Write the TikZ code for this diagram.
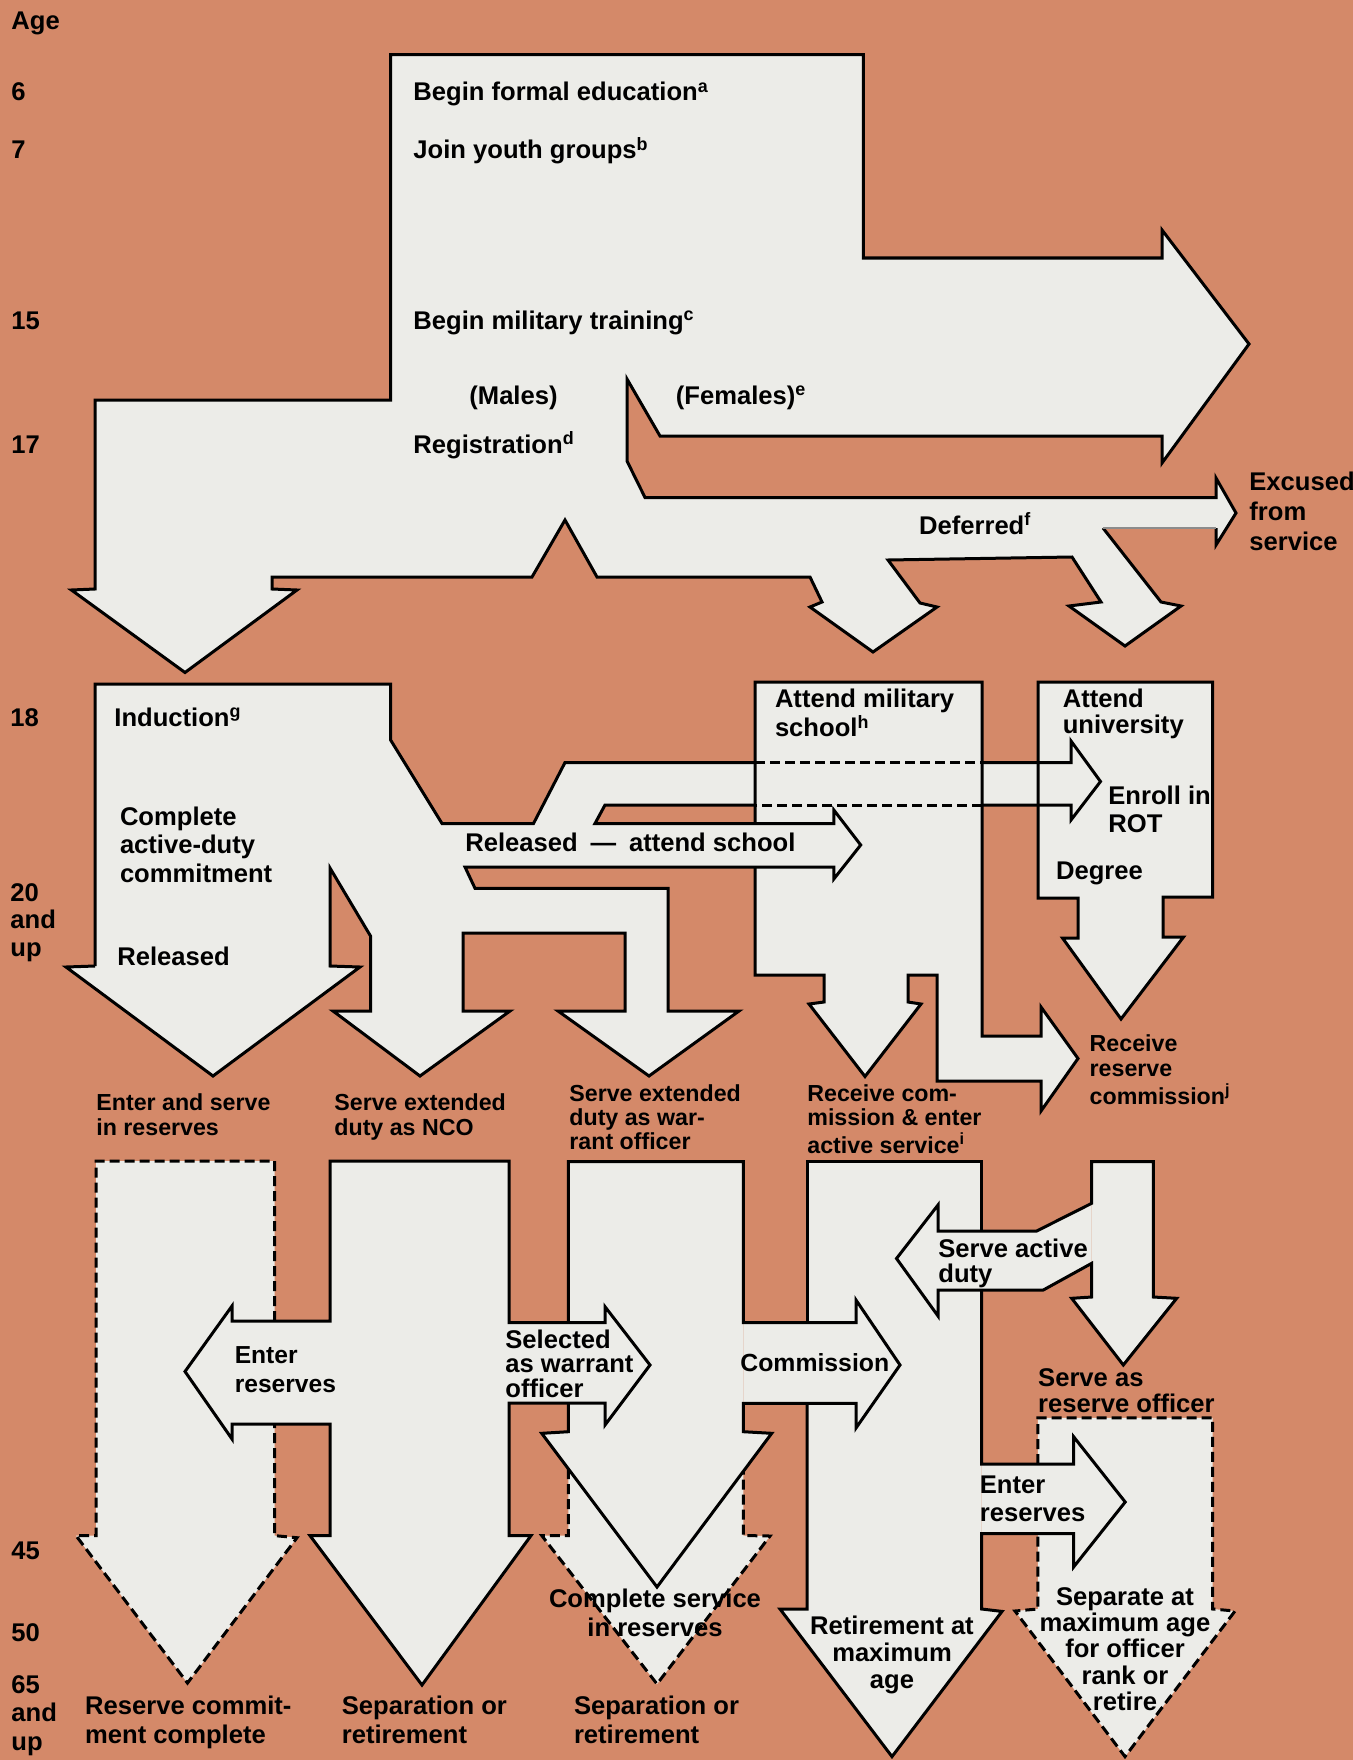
\documentclass[tikz,border=0pt]{standalone}
\usepackage{fontspec}
\newfontfamily\hv{Liberation Sans}
\definecolor{bg}{RGB}{212,137,105}
\definecolor{wh}{RGB}{236,236,232}
\newcommand\ml[4][12.8]{\fontsize{#1}{#2}\selectfont\begin{tabular}[t]{@{}#3@{}}#4\end{tabular}}
\begin{document}
\begin{tikzpicture}[x=0.5pt,y=-0.5pt,
  ol/.style={draw=black,line width=1.5pt,line join=miter,miter limit=6},
  dl/.style={ol,dash pattern=on 5pt off 2.5pt},
  lbl/.style={anchor=base west,inner sep=0pt,font=\hv\bfseries\fontsize{12.8}{14}\selectfont},
  clbl/.style={anchor=base,inner sep=0pt,font=\hv\bfseries\fontsize{12.8}{14}\selectfont}]
\useasboundingbox (0,0) rectangle (1353,1760);
\fill[bg] (0,0) rectangle (1353,1760);

% ---------- white fills ----------
\fill[wh] (390.6,54.7) -- (863.4,54.7) -- (863.4,258) -- (1162,258) -- (1162,230) -- (1249,344) -- (1162,463) -- (1162,436) -- (660,436) -- (627,379) -- (627,461) -- (645,497.5) -- (1216,497.5) -- (1216,478) -- (1236,513) -- (1216,545) -- (1216,528) -- (1103,528) -- (1161,602) -- (1181,606) -- (1125,646) -- (1069,606) -- (1101,602) -- (1072,557) -- (888,560) -- (920,603) -- (937,607) -- (873,652) -- (810,607) -- (822,602) -- (810,577) -- (597,577) -- (565,520) -- (532,577) -- (272,577) -- (272,589) -- (297,590) -- (185,672.5) -- (71.4,590) -- (95,589) -- (95,400) -- (390.6,400) -- cycle;
\fill[wh] (95,684) -- (390.6,684) -- (390.6,740) -- (442,823.5) -- (533.5,823.5) -- (565,762.5) -- (1071,762.5) -- (1071,741) -- (1100.5,781.5) -- (1071,820) -- (1071,805) -- (605,805) -- (595,823.5) -- (833.8,823.5) -- (833.8,810) -- (860.7,845) -- (833.8,879) -- (833.8,867) -- (465,867) -- (475,888.3) -- (668,888.3) -- (668,1011) -- (739,1011) -- (649,1076) -- (558,1011) -- (625,1011) -- (625,933) -- (463,933) -- (463,1011) -- (510,1011) -- (420,1076) -- (333,1011) -- (370.5,1011) -- (370.5,936) -- (330,868) -- (330,966) -- (360,967) -- (213,1076) -- (66,967) -- (95,966) -- cycle;
\fill[wh] (755,682) -- (982,682) -- (982,1036) -- (1041,1036) -- (1041,1007) -- (1078,1058.5) -- (1041,1111) -- (1041,1081) -- (937,1081) -- (937,975) -- (908,975) -- (908,1002) -- (921,1004) -- (865,1076.5) -- (809,1004) -- (824,1002) -- (824,975) -- (755,975) -- cycle;
\fill[wh] (1038,682) -- (1212.6,682) -- (1212.6,897) -- (1163,897) -- (1163,937) -- (1183.5,937) -- (1121,1019) -- (1062.5,938) -- (1078,938) -- (1078,898) -- (1038,898) -- cycle;
% bottom columns
\fill[wh] (96,1161) -- (274.5,1161) -- (274.5,1535.6) -- (297,1537.7) -- (187.5,1683) -- (76,1535.6) -- (96,1535.6) -- cycle;
\fill[wh] (330,1161) -- (509,1161) -- (509,1535.6) -- (531,1535.6) -- (422,1685) -- (310,1535.6) -- (330,1535.6) -- cycle;
\fill[wh] (330,1321) -- (232,1321) -- (232,1306) -- (185,1371.5) -- (232,1439) -- (232,1424) -- (330,1424) -- cycle;
\fill[wh] (508,1322.7) -- (605,1322.7) -- (605,1306.7) -- (650,1365) -- (605,1425) -- (605,1403) -- (508,1403) -- cycle;
\fill[wh] (568.3,1161.7) -- (743.3,1161.7) -- (743.3,1431.7) -- (771.7,1433.3) -- (657,1587) -- (541.7,1433.3) -- (568.3,1431.7) -- cycle;
\fill[wh] (568.3,1440) -- (743.3,1440) -- (743.3,1535.5) -- (770,1536) -- (657,1684) -- (541.7,1535.5) -- (568.3,1535.5) -- cycle;
\fill[wh] (743.3,1322.7) -- (856,1322.7) -- (856,1300) -- (900,1365) -- (856,1428) -- (856,1403.3) -- (743.3,1403.3) -- cycle;
\fill[wh] (807,1161) -- (981.7,1161) -- (981.7,1609) -- (1002,1611.4) -- (892,1756.6) -- (780,1609) -- (807,1609) -- cycle;
\fill[wh] (1091.7,1203.3) -- (1036.7,1231) -- (938,1231) -- (938,1205) -- (896.5,1258.5) -- (938,1316) -- (938,1290) -- (1043.3,1290) -- (1091.7,1263.3) -- cycle;
\fill[wh] (1091.7,1161.7) -- (1153.3,1161.7) -- (1153.3,1297) -- (1176.7,1298.3) -- (1123.3,1365) -- (1071.7,1298.3) -- (1091.7,1297) -- cycle;
\fill[wh] (1037.8,1417.8) -- (1212.6,1417.8) -- (1212.6,1609) -- (1235,1611) -- (1125,1756.6) -- (1015,1611) -- (1037.8,1609) -- cycle;
\fill[wh] (981.7,1464) -- (1073.6,1464) -- (1073.6,1436.7) -- (1125.2,1502) -- (1073.6,1567) -- (1073.6,1533.5) -- (981.7,1533.5) -- cycle;

% ---------- outlines ----------
% top structure
\draw[ol] (1103,528) -- (1161,602) -- (1181,606) -- (1125,646) -- (1069,606) -- (1101,602) -- (1072,557) -- (888,560) -- (920,603) -- (937,607) -- (873,652) -- (810,607) -- (822,602) -- (810,577) -- (597,577) -- (565,520) -- (532,577) -- (272,577) -- (272,589) -- (297,590) -- (185,672.5) -- (71.4,590) -- (95,589) -- (95,400) -- (390.6,400) -- (390.6,54.7) -- (863.4,54.7) -- (863.4,258) -- (1162,258) -- (1162,230) -- (1249,344) -- (1162,463) -- (1162,436) -- (660,436) -- (627,379) -- (627,461) -- (645,497.5) -- (1216,497.5) -- (1216,478) -- (1236,513) -- (1216,545) -- (1216,528);
\draw[draw=black!45,line width=1pt] (1216,528) -- (1103,528);
% induction structure
\draw[ol] (95,966) -- (95,684) -- (390.6,684) -- (390.6,740) -- (442,823.5) -- (533.5,823.5) -- (565,762.5) -- (755,762.5);
\draw[dl] (755,762.5) -- (982,762.5);
\draw[ol] (982,762.5) -- (1071,762.5) -- (1071,741) -- (1100.5,781.5) -- (1071,820) -- (1071,805) -- (982,805);
\draw[dl] (982,805) -- (755,805);
\draw[ol] (755,805) -- (605,805) -- (595,823.5) -- (833.8,823.5) -- (833.8,810) -- (860.7,845) -- (833.8,879) -- (833.8,867) -- (465,867) -- (475,888.3) -- (668,888.3) -- (668,1011) -- (739,1011) -- (649,1076) -- (558,1011) -- (625,1011) -- (625,933) -- (463,933) -- (463,1011) -- (510,1011) -- (420,1076) -- (333,1011) -- (370.5,1011) -- (370.5,936) -- (330,868) -- (330,966) -- (360,967) -- (213,1076) -- (66,967) -- (95,966);
% military school box
\draw[ol] (755,823.5) -- (755,682) -- (982,682) -- (982,1036) -- (1041,1036) -- (1041,1007) -- (1078,1058.5) -- (1041,1111) -- (1041,1081) -- (937,1081) -- (937,975) -- (908,975) -- (908,1002) -- (921,1004) -- (865,1076.5) -- (809,1004) -- (824,1002) -- (824,975) -- (755,975) -- (755,867);
% university box
\draw[ol] (1038,682) -- (1212.6,682) -- (1212.6,897) -- (1163,897) -- (1163,937) -- (1183.5,937) -- (1121,1019) -- (1062.5,938) -- (1078,938) -- (1078,898) -- (1038,898) -- cycle;
% column 1 (dashed)
\draw[dl] (274.5,1321) -- (274.5,1161) -- (96,1161) -- (96,1535.6) -- (76,1535.6) -- (187.5,1683) -- (297,1537.7) -- (274.5,1535.6) -- (274.5,1424);
% column 2 with side arrows
\draw[ol] (330,1321) -- (330,1161) -- (509,1161) -- (509,1322.7) -- (605,1322.7) -- (605,1306.7) -- (650,1365) -- (605,1425) -- (605,1403) -- (509,1403) -- (509,1535.6) -- (531,1535.6) -- (422,1685) -- (310,1535.6) -- (330,1535.6) -- (330,1424) -- (232,1424) -- (232,1439) -- (185,1371.5) -- (232,1306) -- (232,1321) -- cycle;
% column 3
\draw[ol] (568.3,1322.7) -- (568.3,1161.7) -- (743.3,1161.7) -- (743.3,1322.7) -- (856,1322.7) -- (856,1300) -- (900,1365) -- (856,1428) -- (856,1403.3) -- (743.3,1403.3) -- (743.3,1431.7) -- (771.7,1433.3) -- (657,1587) -- (541.7,1433.3) -- (568.3,1431.7) -- (568.3,1403);
\draw[dl] (568.3,1469) -- (568.3,1535.5) -- (541.7,1535.5) -- (657,1684) -- (770,1536) -- (743.3,1535.5) -- (743.3,1471);
% column 4
\draw[ol] (807,1322.7) -- (807,1161) -- (981.7,1161) -- (981.7,1231);
\draw[ol] (981.7,1290) -- (981.7,1464) -- (1073.6,1464) -- (1073.6,1436.7) -- (1125.2,1502) -- (1073.6,1567) -- (1073.6,1533.5) -- (981.7,1533.5) -- (981.7,1609) -- (1002,1611.4) -- (892,1756.6) -- (780,1609) -- (807,1609) -- (807,1403.3);
% serve active duty + column 5
\draw[ol] (1091.7,1203.3) -- (1036.7,1231) -- (938,1231) -- (938,1205) -- (896.5,1258.5) -- (938,1316) -- (938,1290) -- (1043.3,1290) -- (1091.7,1263.3) -- (1091.7,1297) -- (1071.7,1298.3) -- (1123.3,1365) -- (1176.7,1298.3) -- (1153.3,1297) -- (1153.3,1161.7) -- (1091.7,1161.7) -- cycle;
\draw[dl] (1037.8,1464) -- (1037.8,1417.8) -- (1212.6,1417.8) -- (1212.6,1609) -- (1235,1611) -- (1125,1756.6) -- (1015,1611) -- (1037.8,1609) -- (1037.8,1533.5);

% ---------- texts ----------
\node[lbl] (tage) at (11,30) {Age};
\node[lbl] (t6) at (11,101) {6};
\node[lbl] (t7) at (11,159) {7};
\node[lbl] (t15) at (11,329) {15};
\node[lbl] (t17) at (11,453.5) {17};
\node[lbl] (t18) at (10,726) {18};
\node[lbl] (t20) at (10,901) {\ml{13.8}{l}{20\\and\\up}};
\node[lbl] (t45) at (11,1559) {45};
\node[lbl] (t50) at (11,1641) {50};
\node[lbl] (t65) at (11,1693.5) {\ml{14.2}{l}{65\\and\\up}};

\node[lbl] (edu) at (413,101) {Begin formal education\textsuperscript{a}};
\node[lbl] (youth) at (413,159) {Join youth groups\textsuperscript{b}};
\node[lbl] (miltr) at (413,329) {Begin military training\textsuperscript{c}};
\node[lbl] (males) at (469,404) {(Males)};
\node[lbl] (females) at (675.5,404) {(Females)\textsuperscript{e}};
\node[lbl] (reg) at (413,453.5) {Registration\textsuperscript{d}};
\node[lbl] (defer) at (918.7,534) {Deferred\textsuperscript{f}};
\node[lbl] (excused) at (1249,490.6) {\ml{15}{l}{Excused\\from\\service}};

\node[lbl] (induct) at (114,726) {Induction\textsuperscript{g}};
\node[lbl] (compl) at (119.6,825) {\ml{14.4}{l}{Complete\\active-duty\\commitment}};
\node[lbl] (rel) at (117,965) {Released};
\node[lbl] (relsch) at (465,851.7) {Released\enspace—\enspace attend school};
\node[lbl] (milsch) at (774.6,707) {\ml{13.4}{l}{Attend military\\school\textsuperscript{h}}};
\node[lbl] (univ) at (1062.4,707) {\ml{13.4}{l}{Attend\\university}};
\node[lbl] (rot) at (1108,804.5) {\ml{14.2}{l}{Enroll in\\ROT}};
\node[lbl] (degree) at (1055.7,879) {Degree};
\node[lbl] (rrc) at (1089.3,1051.3) {\ml[11.6]{12.5}{l}{Receive\\reserve\\commission\textsuperscript{j}}};

\node[lbl] (ensr) at (96,1110) {\ml[11.6]{12.5}{l}{Enter and serve\\in reserves}};
\node[lbl] (nco) at (334,1110) {\ml[11.6]{12.5}{l}{Serve extended\\duty as NCO}};
\node[lbl] (wo) at (569,1101) {\ml[11.6]{12.2}{l}{Serve extended\\duty as war-\\rant officer}};
\node[lbl] (rcom) at (807,1101) {\ml[11.6]{12.2}{l}{Receive com-\\mission \& enter\\active service\textsuperscript{i}}};

\node[lbl] (enres1) at (234.4,1363) {\ml[12.3]{14.7}{l}{Enter\\reserves}};
\node[lbl] (sel) at (505,1348.3) {\ml{11.7}{l}{Selected\\as warrant\\officer}};
\node[lbl] (comm) at (740,1371.7) {\fontsize{12.4}{14}\selectfont Commission};
\node[lbl] (sad) at (938,1257) {\ml{11}{l}{Serve active\\duty}};
\node[lbl] (sro) at (1037.8,1386.5) {\ml{12}{l}{Serve as\\reserve officer}};
\node[lbl] (enres2) at (979.5,1493.5) {\ml{13.8}{l}{Enter\\reserves}};
\node[clbl] (csr) at (655,1607) {\ml{14.8}{c}{Complete service\\in reserves}};
\node[clbl] (ret) at (892,1634.5) {\ml{13.5}{c}{Retirement at\\maximum\\age}};
\node[clbl] (sep) at (1125,1605) {\ml{13.2}{c}{Separate at\\maximum age\\for officer\\rank or\\retire}};
\node[lbl] (rcc) at (84.8,1714.5) {\ml{14.7}{l}{Reserve commit-\\ment complete}};
\node[lbl] (sor1) at (341.5,1714.5) {\ml{14.7}{l}{Separation or\\retirement}};
\node[lbl] (sor2) at (573.6,1714.5) {\ml{14.7}{l}{Separation or\\retirement}};
\end{tikzpicture}
\end{document}
